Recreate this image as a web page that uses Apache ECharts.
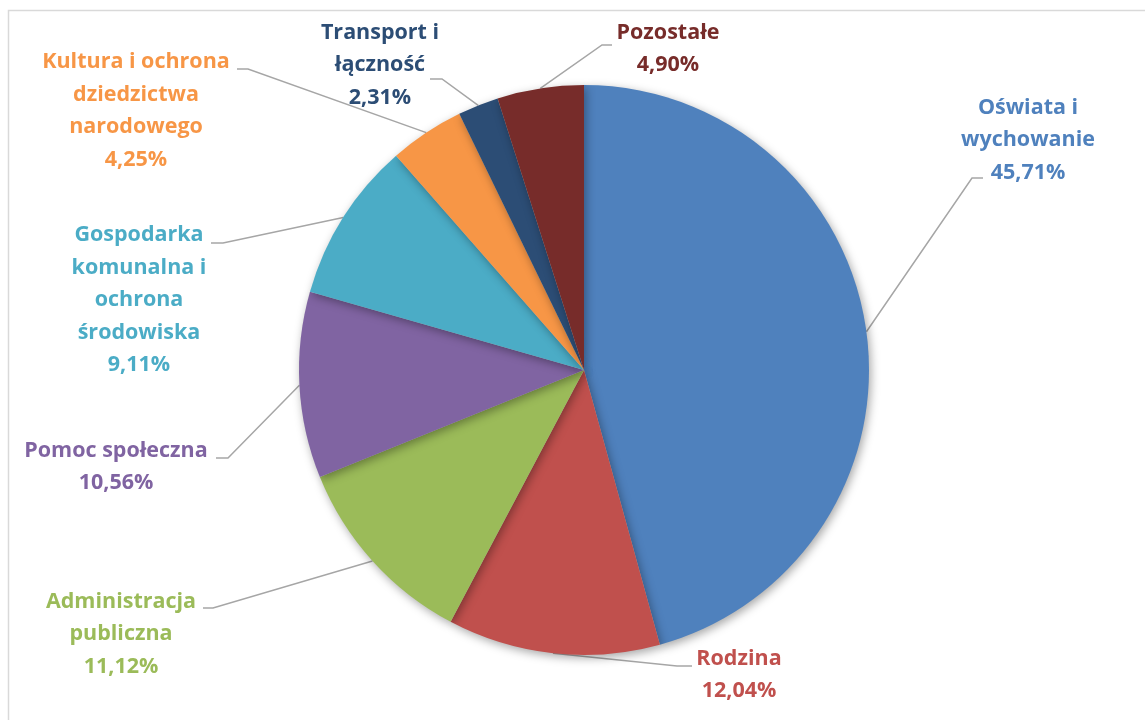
<!DOCTYPE html>
<html><head><meta charset="utf-8">
<script src="https://cdn.jsdelivr.net/npm/echarts@6/dist/echarts.min.js"></script>
<style>html,body{margin:0;padding:0;background:#fff}#c{width:1145px;height:720px}</style>
</head><body><div id="c"></div>
<script>
const categories = ['Oświata i wychowanie','Rodzina','Administracja publiczna','Pomoc społeczna','Gospodarka komunalna i ochrona środowiska','Kultura i ochrona dziedzictwa narodowego','Transport i łączność','Pozostałe'];
const labelTexts = ['Oświata i\nwychowanie','Rodzina','Administracja\npubliczna','Pomoc społeczna','Gospodarka\nkomunalna i\nochrona\nśrodowiska','Kultura i ochrona\ndziedzictwa\nnarodowego','Transport i\nłączność','Pozostałe'];
const values = [45.71, 12.04, 11.12, 10.56, 9.11, 4.25, 2.31, 4.90];
const colors = ['#4F81BD','#C0504D','#9BBB59','#8064A2','#4BACC6','#F79646','#2C4D75','#772C2A'];

// layout only: label block centres and leader-line elbow/end points
const labelPos = [[1028,140],[739,675],[121,634],[116,467],[139,300],[136,111],[380,65],[668,49]];
const leaderEnd = [[[972,178],[983,178]],[[677,666],[692,666]],[[213,608],[203,608]],[[228,458],[216,458]],[[223,243],[211,243]],[[248,69],[237,69]],[[442,79],[430,79]],[[602,45],[612,45]]];

const chart = echarts.init(document.getElementById('c'), null, {renderer:'canvas'});
chart.setOption({
  animation:false,
  graphic:[{type:'rect',shape:{x:8.5,y:10.5,width:1200,height:800},style:{fill:'none',stroke:'#D9D9D9',lineWidth:1.5},z:-1}],
  series:[{
    type:'pie',
    center:[584,370],
    radius:[0,285],
    startAngle:90,
    clockwise:true,
    data: categories.map((c,i)=>({name:c,value:values[i],itemStyle:{color:colors[i]},label:{color:colors[i]}})),
    itemStyle:{shadowBlur:10,shadowColor:'rgba(0,0,0,0.35)',shadowOffsetX:2,shadowOffsetY:3},
    label:{
      show:true,
      formatter:(p)=>labelTexts[p.dataIndex]+'\n'+values[p.dataIndex].toFixed(2).replace('.',',')+'%',
      fontFamily:'Open Sans',fontWeight:'bold',fontSize:21.5,lineHeight:32.5,align:'center'
    },
    labelLine:{show:true,length:20,length2:10,lineStyle:{color:'#A6A6A6',width:1.5}},
    labelLayout:(p)=>{
      const i=p.dataIndex;
      const o={x:labelPos[i][0],y:labelPos[i][1],align:'center',verticalAlign:'middle'};
      if(p.labelLinePoints && p.labelLinePoints[0]) o.labelLinePoints=[p.labelLinePoints[0],leaderEnd[i][0],leaderEnd[i][1]];
      return o;
    }
  }]
});
</script></body></html>
